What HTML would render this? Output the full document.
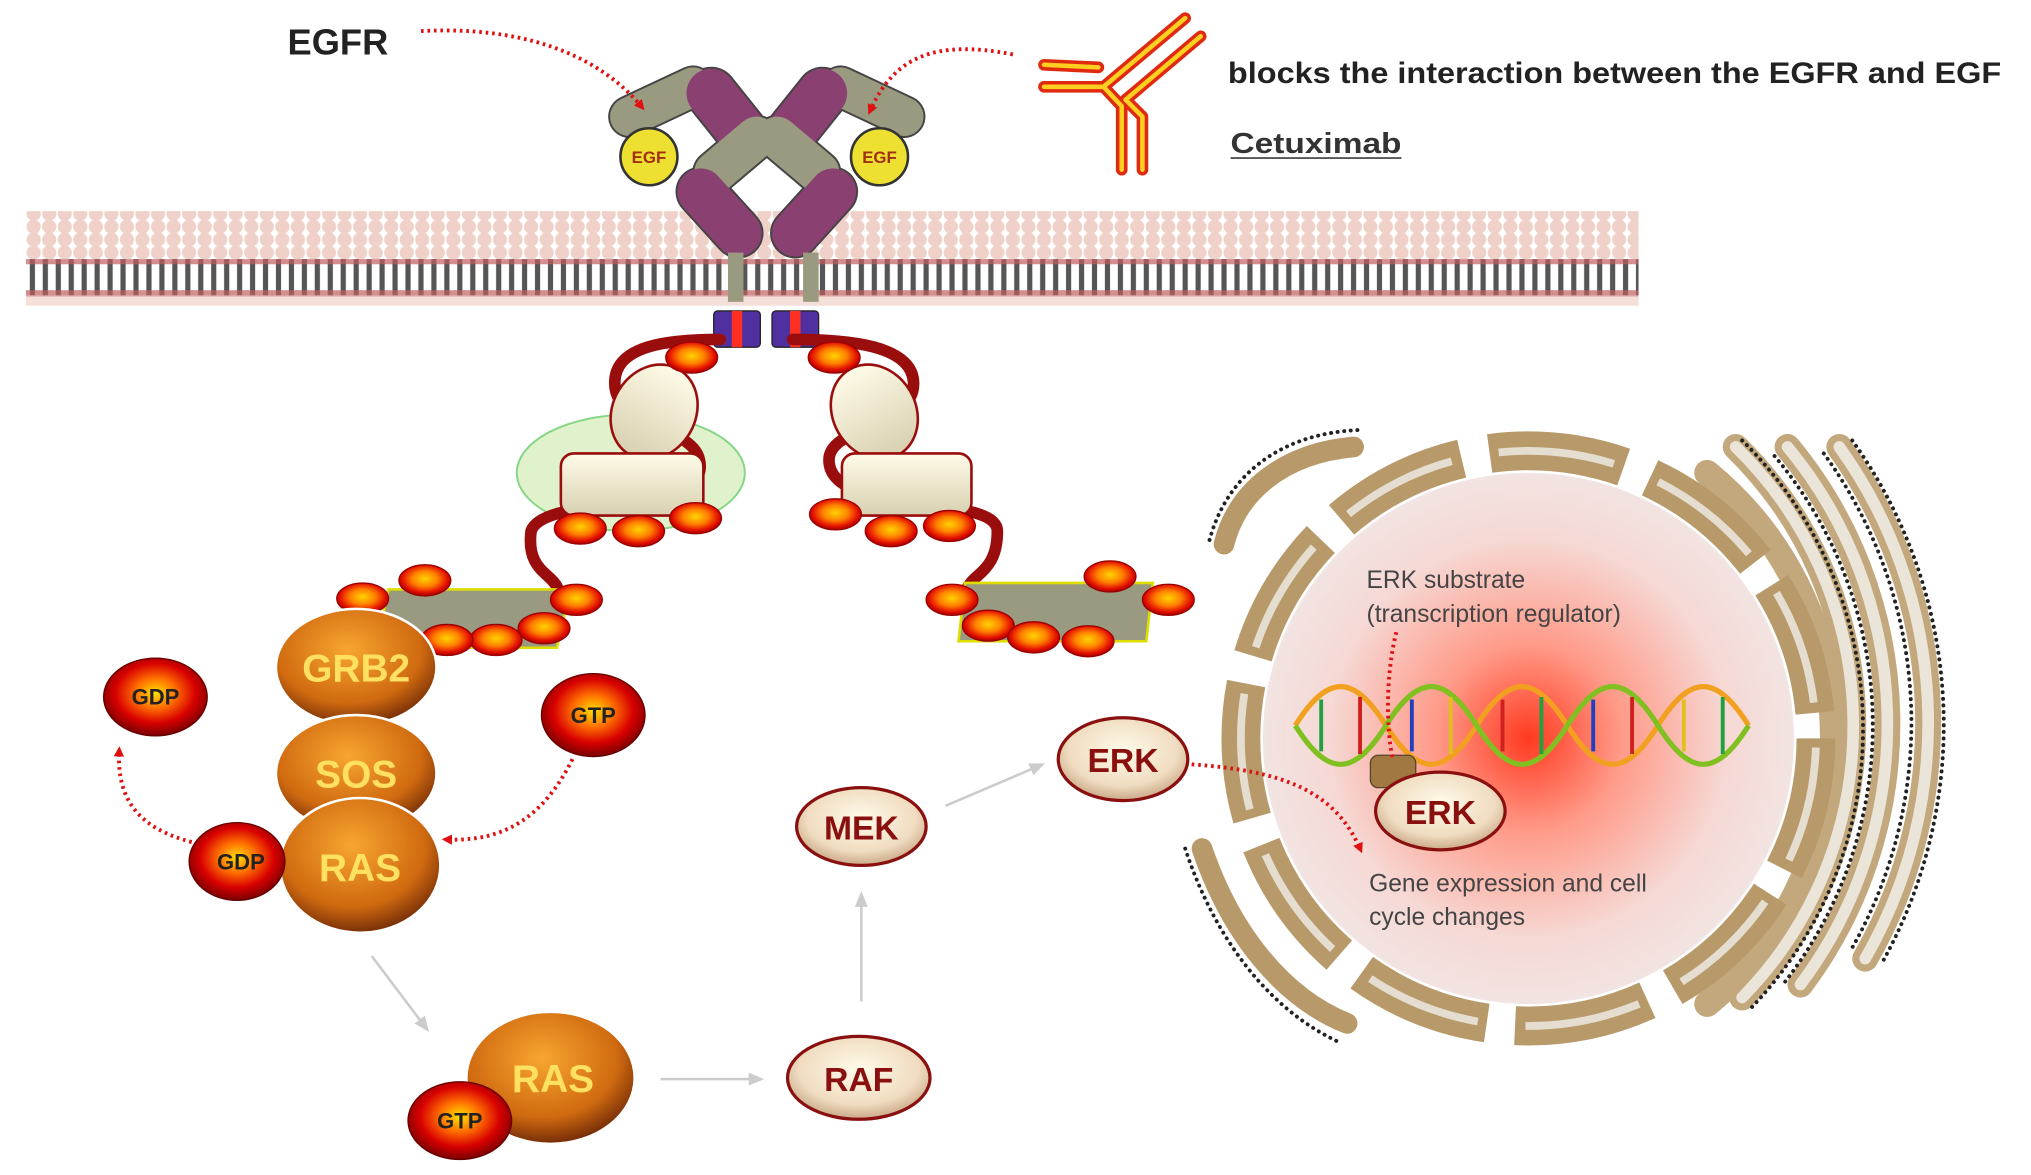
<!DOCTYPE html>
<html><head><meta charset="utf-8"><style>html,body{margin:0;padding:0;background:#fff;overflow:hidden}svg{display:block}</style></head>
<body>
<svg width="2031" height="1175" viewBox="0 0 1568 907" preserveAspectRatio="none" xmlns="http://www.w3.org/2000/svg" font-family="Liberation Sans, sans-serif">
<defs>
<pattern id="heads" x="20" y="0" width="12" height="10" patternUnits="userSpaceOnUse"><circle cx="6" cy="5" r="5.5" fill="#ecc9bf"/></pattern>
<pattern id="tails" x="20" y="0" width="10" height="30" patternUnits="userSpaceOnUse"><rect width="10" height="30" fill="#fff"/><rect x="3" y="0" width="4" height="30" fill="#555"/></pattern>
<radialGradient id="orb" cx="45%" cy="35%" r="65%"><stop offset="0" stop-color="#f7a630"/><stop offset="0.7" stop-color="#d06a10"/><stop offset="1" stop-color="#7a3008"/></radialGradient>
<radialGradient id="rball" cx="50%" cy="45%" r="55%"><stop offset="0" stop-color="#ffd400"/><stop offset="0.45" stop-color="#ff8000"/><stop offset="0.8" stop-color="#e41000"/><stop offset="1" stop-color="#a00000"/></radialGradient>
<radialGradient id="gball" cx="50%" cy="45%" r="55%"><stop offset="0" stop-color="#ffe000"/><stop offset="0.35" stop-color="#ff7000"/><stop offset="0.7" stop-color="#d80000"/><stop offset="1" stop-color="#7a0000"/></radialGradient>
<radialGradient id="kin" cx="50%" cy="40%" r="60%"><stop offset="0" stop-color="#fffbea"/><stop offset="0.7" stop-color="#f0dcc0"/><stop offset="1" stop-color="#c9a888"/></radialGradient>
<radialGradient id="nuc" cx="50%" cy="50%" r="50%"><stop offset="0" stop-color="#ff3a20"/><stop offset="0.35" stop-color="#ff9a88"/><stop offset="0.75" stop-color="#f6d8d4"/><stop offset="1" stop-color="#f2e4e2"/></radialGradient>
<linearGradient id="cyl" x1="0" y1="0" x2="0" y2="1"><stop offset="0" stop-color="#fffbe8"/><stop offset="1" stop-color="#d8d0b0"/></linearGradient>
<marker id="ah" markerWidth="8" markerHeight="8" refX="4" refY="4" orient="auto" markerUnits="userSpaceOnUse"><path d="M0,0 L8,4 L0,8z" fill="#e01010"/></marker>
<marker id="gh" markerWidth="12" markerHeight="10" refX="10" refY="5" orient="auto" markerUnits="userSpaceOnUse"><path d="M0,0 L12,5 L0,10z" fill="#ccc"/></marker>
</defs>

<!-- membrane -->
<rect x="20" y="163" width="1245" height="45" fill="url(#heads)" opacity="0.85"/>
<rect x="20" y="200" width="1245" height="28" fill="url(#tails)"/>
<rect x="20" y="200" width="1245" height="4" fill="#c06060" opacity="0.7"/>
<rect x="20" y="224" width="1245" height="5" fill="#c06060" opacity="0.7"/>
<rect x="20" y="228" width="1245" height="8" fill="#ecc9bf" opacity="0.6"/>

<!-- receptor extracellular -->
<g stroke-linecap="round" fill="none">
<g stroke="#444">
<line x1="486" y1="90" x2="535" y2="67" stroke-width="33"/>
<line x1="549" y1="72" x2="573" y2="102" stroke-width="41"/>
<line x1="584" y1="106" x2="552" y2="133" stroke-width="35"/>
<line x1="541" y1="148" x2="570" y2="180" stroke-width="39"/>
<line x1="698" y1="90" x2="649" y2="67" stroke-width="33"/>
<line x1="635" y1="72" x2="611" y2="102" stroke-width="41"/>
<line x1="600" y1="106" x2="632" y2="133" stroke-width="35"/>
<line x1="643" y1="148" x2="614" y2="180" stroke-width="39"/>
</g>
<line x1="486" y1="90" x2="535" y2="67" stroke="#9a9a80" stroke-width="30"/>
<line x1="549" y1="72" x2="573" y2="102" stroke="#8a4070" stroke-width="38"/>
<line x1="584" y1="106" x2="552" y2="133" stroke="#9a9a80" stroke-width="32"/>
<line x1="541" y1="148" x2="570" y2="180" stroke="#8a4070" stroke-width="36"/>
<line x1="698" y1="90" x2="649" y2="67" stroke="#9a9a80" stroke-width="30"/>
<line x1="635" y1="72" x2="611" y2="102" stroke="#8a4070" stroke-width="38"/>
<line x1="600" y1="106" x2="632" y2="133" stroke="#9a9a80" stroke-width="32"/>
<line x1="643" y1="148" x2="614" y2="180" stroke="#8a4070" stroke-width="36"/>
</g>
<circle cx="501" cy="121" r="22" fill="#eee030" stroke="#333" stroke-width="2"/>
<text x="501" y="126" font-size="13" font-weight="bold" fill="#a03010" text-anchor="middle">EGF</text>
<circle cx="679" cy="121" r="22" fill="#eee030" stroke="#333" stroke-width="2"/>
<text x="679" y="126" font-size="13" font-weight="bold" fill="#a03010" text-anchor="middle">EGF</text>
<rect x="562" y="195" width="12" height="38" fill="#9a9a80"/><rect x="620" y="195" width="12" height="38" fill="#9a9a80"/>
<rect x="551" y="240" width="36" height="28" rx="3" fill="#5030a0" stroke="#222"/><rect x="565" y="240" width="8" height="28" fill="#ff3020"/>
<rect x="596" y="240" width="36" height="28" rx="3" fill="#5030a0" stroke="#222"/><rect x="610" y="240" width="8" height="28" fill="#ff3020"/>

<!-- EGFR label & arrows -->
<text x="222" y="42" font-size="28" font-weight="bold" fill="#222">EGFR</text>
<path d="M325,24 C400,20 460,40 495,82" fill="none" stroke="#e01010" stroke-width="3" stroke-dasharray="2 3" marker-end="url(#ah)"/>
<path d="M782,42 C720,30 690,45 672,85" fill="none" stroke="#e01010" stroke-width="3" stroke-dasharray="2 3" marker-end="url(#ah)"/>

<!-- antibody -->
<g stroke-linecap="round" stroke-linejoin="round" fill="none">
<g stroke="#e02a10" stroke-width="9">
<path d="M806,50 L848,52"/><path d="M806,67 L852,67 L915,14"/>
<path d="M869,77 L927,28"/><path d="M852,67 L866,82 L866,131"/><path d="M869,77 L882,90 L882,131"/>
</g>
<g stroke="#ffd020" stroke-width="3.5">
<path d="M806,50 L848,52"/><path d="M806,67 L852,67 L915,14"/>
<path d="M869,77 L927,28"/><path d="M852,67 L866,82 L866,131"/><path d="M869,77 L882,90 L882,131"/>
</g>
</g>
<text x="948" y="64" font-size="23" font-weight="bold" fill="#222" textLength="597" lengthAdjust="spacingAndGlyphs">blocks the interaction between the EGFR and EGF</text>
<text x="950" y="118" font-size="22" font-weight="bold" fill="#333" textLength="132" lengthAdjust="spacingAndGlyphs">Cetuximab</text>
<line x1="950" y1="122" x2="1082" y2="122" stroke="#555" stroke-width="1.5"/>

<!-- intracellular tubes -->
<ellipse cx="487" cy="365" rx="88" ry="45" fill="#d8f0c0" stroke="#6c6" stroke-width="1.5" opacity="0.8"/>
<g fill="none" stroke="#9a0d0d" stroke-width="9" stroke-linecap="round">
<path d="M556,262 C520,262 470,265 475,300 C480,330 535,330 540,355 C550,400 420,380 410,410 C405,450 440,440 430,470 C420,490 370,490 340,470"/>
<path d="M612,262 C650,262 710,265 705,300 C700,330 640,330 640,355 C640,400 770,380 770,410 C770,450 740,440 745,470 C750,490 800,490 830,470"/>
</g>
<ellipse cx="505" cy="318" rx="32" ry="38" fill="url(#cyl)" stroke="#9a0d0d" stroke-width="2" transform="rotate(30 505 318)"/>
<ellipse cx="675" cy="318" rx="32" ry="38" fill="url(#cyl)" stroke="#9a0d0d" stroke-width="2" transform="rotate(-30 675 318)"/>
<rect x="433" y="350" width="110" height="48" rx="10" fill="url(#cyl)" stroke="#9a0d0d" stroke-width="2"/>
<rect x="650" y="350" width="100" height="48" rx="10" fill="url(#cyl)" stroke="#9a0d0d" stroke-width="2"/>
<polygon points="300,455 440,455 430,500 290,500" fill="#9a9a80" stroke="#dd0" stroke-width="2"/>
<polygon points="745,450 890,450 885,495 740,495" fill="#9a9a80" stroke="#dd0" stroke-width="2"/>
<g fill="url(#rball)" stroke="#900" stroke-width="1">
<ellipse cx="534" cy="276" rx="20" ry="12"/><ellipse cx="644" cy="276" rx="20" ry="12"/>
<ellipse cx="448" cy="408" rx="20" ry="12"/><ellipse cx="493" cy="410" rx="20" ry="12"/><ellipse cx="537" cy="400" rx="20" ry="12"/>
<ellipse cx="645" cy="397" rx="20" ry="12"/><ellipse cx="688" cy="410" rx="20" ry="12"/><ellipse cx="733" cy="406" rx="20" ry="12"/>
<ellipse cx="328" cy="448" rx="20" ry="12"/><ellipse cx="445" cy="463" rx="20" ry="12"/><ellipse cx="420" cy="485" rx="20" ry="12"/><ellipse cx="383" cy="494" rx="20" ry="12"/><ellipse cx="345" cy="494" rx="20" ry="12"/><ellipse cx="280" cy="462" rx="20" ry="12"/>
<ellipse cx="735" cy="463" rx="20" ry="12"/><ellipse cx="763" cy="483" rx="20" ry="12"/><ellipse cx="798" cy="492" rx="20" ry="12"/><ellipse cx="840" cy="495" rx="20" ry="12"/><ellipse cx="857" cy="445" rx="20" ry="12"/><ellipse cx="902" cy="463" rx="20" ry="12"/>
</g>

<!-- GRB2/SOS/RAS -->
<g stroke="#fff" stroke-width="2">
<ellipse cx="275" cy="515" rx="62" ry="45" fill="url(#orb)"/>
<ellipse cx="275" cy="597" rx="62" ry="45" fill="url(#orb)"/>
<ellipse cx="278" cy="668" rx="62" ry="52" fill="url(#orb)"/>
</g>
<g font-size="30" font-weight="bold" fill="#ffe060" text-anchor="middle">
<text x="275" y="526">GRB2</text><text x="275" y="608">SOS</text><text x="278" y="680">RAS</text></g>
<g fill="url(#gball)" stroke="#600" stroke-width="1">
<ellipse cx="120" cy="538" rx="40" ry="30"/><ellipse cx="458" cy="552" rx="40" ry="32"/><ellipse cx="183" cy="665" rx="37" ry="30"/>
</g>
<g font-size="17" font-weight="bold" fill="#222" text-anchor="middle">
<text x="120" y="544">GDP</text><text x="458" y="558">GTP</text><text x="186" y="671">GDP</text></g>
<path d="M148,650 C110,640 90,620 92,580" fill="none" stroke="#e01010" stroke-width="3" stroke-dasharray="2 3" marker-end="url(#ah)"/>
<path d="M442,586 C420,630 390,650 345,648" fill="none" stroke="#e01010" stroke-width="3" stroke-dasharray="2 3" marker-end="url(#ah)"/>

<!-- lower RAS -->
<ellipse cx="425" cy="832" rx="64" ry="50" fill="url(#orb)"/>
<text x="427" y="843" font-size="30" font-weight="bold" fill="#ffe060" text-anchor="middle">RAS</text>
<ellipse cx="355" cy="865" rx="40" ry="30" fill="url(#gball)" stroke="#600"/>
<text x="355" y="871" font-size="17" font-weight="bold" fill="#222" text-anchor="middle">GTP</text>

<!-- grey arrows -->
<g stroke="#ccc" stroke-width="2" fill="none" marker-end="url(#gh)">
<line x1="287" y1="738" x2="330" y2="795"/><line x1="510" y1="833" x2="588" y2="833"/>
<line x1="665" y1="773" x2="665" y2="690"/><line x1="730" y1="622" x2="805" y2="590"/>
</g>
<!-- kinases -->
<g stroke="#8a1010" stroke-width="2.5" fill="url(#kin)">
<ellipse cx="663" cy="832" rx="55" ry="32"/><ellipse cx="665" cy="638" rx="50" ry="30"/><ellipse cx="867" cy="586" rx="50" ry="32"/>
</g>
<g font-size="26" font-weight="bold" fill="#8a1010" text-anchor="middle">
<text x="663" y="842">RAF</text><text x="665" y="648">MEK</text><text x="867" y="596">ERK</text></g>

<!-- ER right: concentric arcs -->
<g fill="none" stroke-linecap="round">
<g stroke="#c2a87c" stroke-width="20">
<path d="M1318,365 A265,265 0 0 1 1318,775"/>
<path d="M1340,345 A300,300 0 0 1 1345,770"/>
<path d="M1380,345 A335,335 0 0 1 1390,760"/>
<path d="M1420,345 A365,365 0 0 1 1440,740"/>
</g>
<g stroke="#ebe4d8" stroke-width="9">
<path d="M1340,345 A300,300 0 0 1 1345,770"/>
<path d="M1380,345 A335,335 0 0 1 1390,760"/>
<path d="M1420,345 A365,365 0 0 1 1440,740"/>
</g>
<g stroke="#222" stroke-width="3" stroke-dasharray="0.1 5">
<path d="M1430,340 A377,377 0 0 1 1452,745"/>
<path d="M1408,350 A353,353 0 0 1 1428,735"/>
<path d="M1370,352 A323,323 0 0 1 1378,758"/>
<path d="M1345,340 A312,312 0 0 1 1352,778"/>
</g>
<!-- left outer arms -->
<g stroke="#b89a6a" stroke-width="16">
<path d="M1045,345 C990,350 955,380 945,420"/>
<path d="M928,655 C950,720 990,770 1040,790"/>
</g>
<g stroke="#222" stroke-width="3" stroke-dasharray="0.1 5">
<path d="M1048,332 C985,335 945,370 933,420"/>
<path d="M915,655 C938,725 980,780 1035,805"/>
</g>
</g>
<!-- nucleus -->
<circle cx="1180" cy="570" r="222" fill="none" stroke="#b89a6a" stroke-width="30" stroke-dasharray="105 22"/>
<circle cx="1180" cy="570" r="222" fill="none" stroke="#e4ddd0" stroke-width="6" stroke-dasharray="90 37" stroke-dashoffset="-7"/>
<circle cx="1180" cy="570" r="205" fill="url(#nuc)"/>
<!-- DNA -->
<g fill="none" stroke-width="4">
<path d="M1000,560 C1025,520 1045,520 1070,560 S1115,600 1140,560 S1185,520 1210,560 S1255,600 1280,560 S1325,520 1350,560" stroke="#f2a020"/>
<path d="M1000,560 C1025,600 1045,600 1070,560 S1115,520 1140,560 S1185,600 1210,560 S1255,520 1280,560 S1325,600 1350,560" stroke="#80c020"/>
</g>
<g stroke-width="3">
<line x1="1020" y1="540" x2="1020" y2="580" stroke="#20a040"/><line x1="1050" y1="538" x2="1050" y2="582" stroke="#d02020"/>
<line x1="1090" y1="540" x2="1090" y2="580" stroke="#2040c0"/><line x1="1120" y1="538" x2="1120" y2="582" stroke="#e0c020"/>
<line x1="1160" y1="540" x2="1160" y2="580" stroke="#d02020"/><line x1="1190" y1="538" x2="1190" y2="582" stroke="#20a040"/>
<line x1="1230" y1="540" x2="1230" y2="580" stroke="#2040c0"/><line x1="1260" y1="538" x2="1260" y2="582" stroke="#d02020"/>
<line x1="1300" y1="540" x2="1300" y2="580" stroke="#e0c020"/><line x1="1330" y1="538" x2="1330" y2="582" stroke="#20a040"/>
</g>
<rect x="1058" y="583" width="35" height="25" rx="6" fill="#a07840" stroke="#543"/>
<ellipse cx="1112" cy="626" rx="50" ry="30" fill="url(#kin)" stroke="#8a1010" stroke-width="2.5"/>
<text x="1112" y="636" font-size="26" font-weight="bold" fill="#8a1010" text-anchor="middle">ERK</text>
<path d="M1078,488 C1070,520 1070,560 1075,585" fill="none" stroke="#e01010" stroke-width="3" stroke-dasharray="2 3"/>
<path d="M920,590 C990,595 1030,610 1050,655" fill="none" stroke="#e01010" stroke-width="3" stroke-dasharray="2 3" marker-end="url(#ah)"/>
<g font-size="19" fill="#444">
<text x="1055" y="454">ERK substrate</text><text x="1055" y="480">(transcription regulator)</text>
<text x="1057" y="688">Gene expression and cell</text><text x="1057" y="714">cycle changes</text></g>
</svg>
</body></html>
